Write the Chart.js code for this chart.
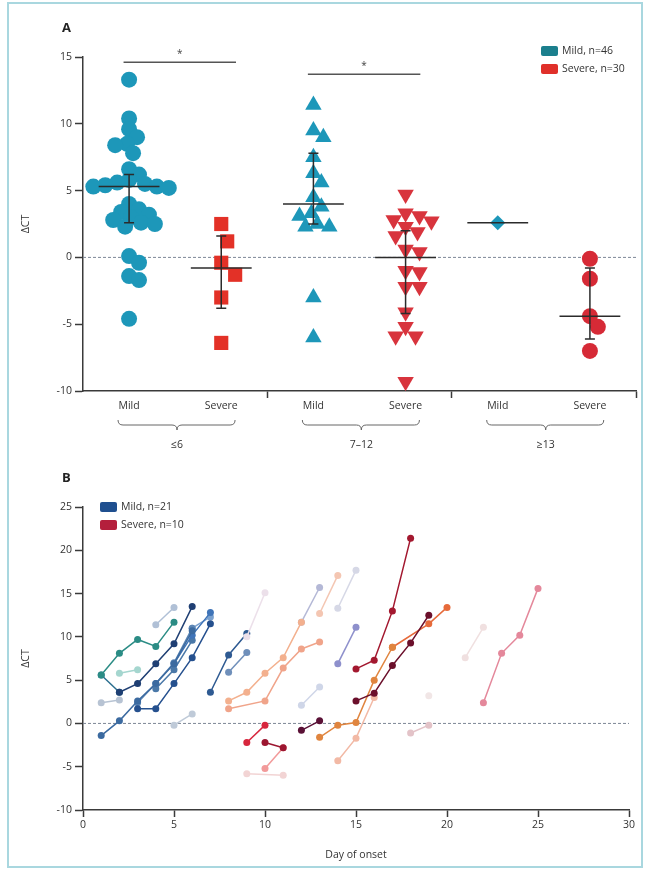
<!DOCTYPE html>
<html>
<head>
<meta charset="utf-8">
<script src="https://cdn.jsdelivr.net/npm/chart.js@4.4.0/dist/chart.umd.min.js"></script>
<style>
    html, body { margin: 0; padding: 0; background: #fff; }
    #frame { position: absolute; left: 7px; top: 2px; width: 636px; height: 866px; border: 2px solid #a9d7df; box-sizing: border-box; }
    #wrapA { position: absolute; left: 0; top: 0; width: 646px; height: 460px; }
    #wrapB { position: absolute; left: 0; top: 460px; width: 646px; height: 411px; }
</style>
</head>
<body>
<div id="frame"></div>
<div id="wrapA"><canvas id="chartA" width="646" height="460"></canvas></div>
<div id="wrapB"><canvas id="chartB" width="646" height="411"></canvas></div>
<script>
// ===== PANEL A DATA =====
const groupLabels = ["≤6", "7–12", "≥13"];
const severityLabels = ["Mild", "Severe"];
const legendA = ["Mild, n=46", "Severe, n=30"];

const mildUpTo6 = [13.3, 10.4, 9.6, 9.0, 8.5, 8.4, 7.8, 6.6, 6.2, 5.8, 5.6, 5.5, 5.4, 5.3, 5.3,
    5.2, 4.0, 3.6, 3.4, 3.2, 3.0, 2.8, 2.6, 2.5, 2.3, 0.1, -0.4, -1.4, -1.7, -4.6];
const severeUpTo6 = [2.5, 1.2, -0.4, -1.3, -3.0, -6.4];
const mild7to12 = [11.4, 9.5, 9.0, 7.5, 6.3, 5.6, 4.5, 3.8, 3.3, 3.1, 2.5, 2.3, 2.3, -3.0, -6.0];
const severe7to12 = [4.7, 3.3, 3.1, 2.8, 2.7, 2.3, 1.9, 1.6, 0.6, 0.4, -1.0, -1.1, -2.2, -2.2,
    -4.1, -5.2, -5.9, -5.9, -9.3];
const mild13plus = [2.6];
const severe13plus = [-0.1, -1.6, -4.4, -5.2, -7.0];

const medians = [5.3, -0.8, 4.0, 0.0, 2.6, -4.4];
const lowerQ = [2.6, -3.8, 2.5, -4.2, null, -6.1];
const upperQ = [6.2, 1.6, 7.8, 2.0, null, -0.8];
// significance brackets: [from group, to group, height]
const sigFrom = [0, 2];
const sigTo = [1, 3];
const sigHeight = [14.6, 13.7];

// ===== PANEL B DATA =====
const legendB = ["Mild, n=21", "Severe, n=10"];

const mildDays = [
    [1, 2, 3, 4, 5], [1, 2, 3, 4, 5, 6], [2, 3, 4, 5, 6], [3, 4, 5, 6, 7], [3, 4, 5, 6],
    [7, 8, 9], [8, 9], [1, 2], [5, 6], [4, 5], [5, 6, 7], [2, 3], [4, 5, 6], [1, 2], [6, 7]
];
const mildCt = [
    [5.6, 8.1, 9.7, 8.9, 11.7], [-1.4, 0.3, 2.6, 4.6, 6.9, 10.7], [3.6, 4.6, 6.9, 9.2, 13.5],
    [1.7, 1.7, 4.6, 7.6, 11.5], [2.4, 4.6, 7.0, 11.0], [3.6, 7.9, 10.4], [5.9, 8.2], [2.4, 2.7],
    [-0.2, 1.1], [11.4, 13.4], [6.9, 10.2, 12.8], [5.8, 6.2], [4.0, 6.2, 9.6], [5.6, 3.6], [11.0, 12.3]
];

const severeDays = [
    [15, 16, 17, 18], [15, 16, 17, 18, 19], [13, 14, 15, 16, 17], [17, 19, 20], [9, 10], [10, 11],
    [12, 13], [8, 9, 10, 11, 12], [8, 10, 11, 12, 13], [10, 11], [9, 11], [14, 15, 16], [12, 13],
    [13, 14], [14, 15], [14, 15], [18, 19], [22, 23, 24, 25], [21, 22], [9, 10], [12, 13], [19]
];
const severeCt = [
    [6.3, 7.3, 13.0, 21.4], [2.6, 3.5, 6.7, 9.3, 12.5], [-1.6, -0.2, 0.1, 5.0, 8.8], [8.8, 11.5, 13.4],
    [-2.2, -0.2], [-2.2, -2.8], [-0.8, 0.3], [2.6, 3.6, 5.8, 7.6, 11.7], [1.7, 2.6, 6.4, 8.6, 9.4],
    [-5.2, -2.8], [-5.8, -6.0], [-4.3, -1.7, 3.0], [11.7, 15.7], [12.7, 17.1], [13.3, 17.7],
    [6.9, 11.1], [-1.1, -0.2], [2.4, 8.1, 10.2, 15.6], [7.6, 11.1], [10.0, 15.1], [2.1, 4.2], [3.2]
];

// ===== STYLES =====
const mildShades = ["#2b8c85", "#3b6aa0", "#1f3f73", "#25508e", "#5d86b5", "#2e5a92", "#6f8fba",
    "#b7c3d3", "#bfcad8", "#b0c0d6", "#3f74b8", "#a5d6cf", "#4a78a8", "#2b6f8f", "#7aa1cf"];
const severeShades = ["#a3182f", "#6b0f2b", "#e0853f", "#e66a3a", "#d7263d", "#9c1630", "#5a1136",
    "#f3b08e", "#f0a48a", "#f29a9a", "#f2d4d4", "#f2b9a5", "#b4b8d6", "#f4c6b2", "#d6d8e6",
    "#8e90cc", "#e3c3c8", "#e4889b", "#f0e0e0", "#ece0ea", "#cfd6e8", "#f1e6e6"];

const FONT = "'Open Sans', 'DejaVu Sans', sans-serif";
const TEXT = "#333";
const AXIS = "#3a3a3a";
const MILD = "#1d97b9";
const SEVERE = "#e33127";

Chart.defaults.font.family = FONT;
Chart.defaults.color = TEXT;

// spread points sideways so they do not sit on top of each other
function swarm(values, center, minDist) {
    const pxX = 92.8, pxY = 13.4;
    const placed = [];
    values.forEach(v => {
        const py = v * pxY;
        let best = 0;
        for (let k = 0; k < 60; k++) {
            const off = (k % 2 ? 1 : -1) * Math.ceil(k / 2) * 2;
            if (placed.every(q => Math.hypot(q.px - off, q.py - py) >= minDist)) {
                best = off;
                break;
            }
        }
        placed.push({ px: best, py });
    });
    return placed.map(q => ({ x: center + q.px / pxX, y: q.py / pxY }));
}

function drawLegend(ctx, x, y, labels, colors) {
    ctx.save();
    ctx.font = "10.5px " + FONT;
    ctx.textBaseline = "middle";
    labels.forEach((lab, i) => {
        const yy = y + i * 18;
        ctx.fillStyle = colors[i];
        ctx.beginPath();
        ctx.roundRect(x, yy - 5, 17, 10, 2);
        ctx.fill();
        ctx.fillStyle = TEXT;
        ctx.fillText(lab, x + 21, yy);
    });
    ctx.restore();
}

function panelLetter(ctx, letter, x, y) {
    ctx.save();
    ctx.font = "bold 13px " + FONT;
    ctx.fillStyle = "#222";
    ctx.textBaseline = "middle";
    ctx.fillText(letter, x, y);
    ctx.restore();
}

const zeroLine = {
    id: "zeroLine",
    beforeDatasetsDraw(chart) {
        const { ctx, chartArea, scales: { y } } = chart;
        const yy = y.getPixelForValue(0);
        ctx.save();
        ctx.strokeStyle = "#7d8796";
        ctx.lineWidth = 1;
        ctx.setLineDash([3, 2]);
        ctx.beginPath();
        ctx.moveTo(chartArea.left, yy);
        ctx.lineTo(chartArea.right, yy);
        ctx.stroke();
        ctx.restore();
    }
};

function drawBrace(ctx, xl, xr, xm, y) {
    const h = 5;
    ctx.beginPath();
    ctx.moveTo(xl, y - h);
    ctx.quadraticCurveTo(xl, y, xl + h, y);
    ctx.lineTo(xm - h, y);
    ctx.quadraticCurveTo(xm, y, xm, y + h);
    ctx.quadraticCurveTo(xm, y, xm + h, y);
    ctx.lineTo(xr - h, y);
    ctx.quadraticCurveTo(xr, y, xr, y - h);
    ctx.stroke();
}

const panelAExtras = {
    id: "panelAExtras",
    afterDatasetsDraw(chart) {
        const { ctx, scales: { x, y } } = chart;
        ctx.save();
        ctx.strokeStyle = "#2b2b2b";
        ctx.lineWidth = 1.5;

        // ===== MEDIAN + IQR =====
        medians.forEach((m, i) => {
            const ym = y.getPixelForValue(m);
            ctx.beginPath();
            ctx.moveTo(x.getPixelForValue(i - 0.33), ym);
            ctx.lineTo(x.getPixelForValue(i + 0.33), ym);
            ctx.stroke();
            if (lowerQ[i] === null) return;
            const xc = x.getPixelForValue(i);
            const yl = y.getPixelForValue(lowerQ[i]);
            const yu = y.getPixelForValue(upperQ[i]);
            const cap = 5;
            ctx.beginPath();
            ctx.moveTo(xc, yl);
            ctx.lineTo(xc, yu);
            ctx.moveTo(xc - cap, yl);
            ctx.lineTo(xc + cap, yl);
            ctx.moveTo(xc - cap, yu);
            ctx.lineTo(xc + cap, yu);
            ctx.stroke();
        });

        // ===== SIGNIFICANCE =====
        ctx.strokeStyle = "#555";
        ctx.fillStyle = "#444";
        ctx.font = "10px " + FONT;
        ctx.textAlign = "center";
        sigHeight.forEach((h, i) => {
            const yy = y.getPixelForValue(h);
            const x1 = x.getPixelForValue(sigFrom[i] - 0.06);
            const x2 = x.getPixelForValue(sigTo[i] + 0.16);
            ctx.beginPath();
            ctx.moveTo(x1, yy);
            ctx.lineTo(x2, yy);
            ctx.stroke();
            ctx.fillText("*", (x1 + x2) / 2, yy - 5);
        });
        ctx.restore();
    },
    afterDraw(chart) {
        const { ctx, chartArea, scales: { x } } = chart;
        ctx.save();
        ctx.strokeStyle = "#666";
        ctx.lineWidth = 1;
        ctx.fillStyle = TEXT;
        ctx.font = "10.5px " + FONT;
        ctx.textAlign = "center";
        ctx.textBaseline = "middle";
        groupLabels.forEach((g, i) => {
            const xl = x.getPixelForValue(i * 2 - 0.12);
            const xr = x.getPixelForValue(i * 2 + 1.15);
            const xm = x.getPixelForValue(i * 2 + 0.52);
            const yb = chartArea.bottom + 34;
            drawBrace(ctx, xl, xr, xm, yb);
            ctx.fillText(g, xm, yb + 20);
        });
        ctx.restore();

        drawLegend(ctx, chartArea.right - 95, chartArea.top - 6, legendA, ["#1b7f8d", "#e0302a"]);
        panelLetter(ctx, "A", 62, 28);
    }
};

const panelBExtras = {
    id: "panelBExtras",
    afterDraw(chart) {
        const { ctx, chartArea } = chart;
        drawLegend(ctx, chartArea.left + 17, chartArea.top, legendB, ["#1f4f8f", "#b41f3c"]);
        panelLetter(ctx, "B", 62, 18);
    }
};

// ===== CHART A =====
const groupsA = [
    { label: "Mild ≤6", values: mildUpTo6, style: "circle", radius: 8, color: MILD, gap: 10.5, rot: 0 },
    { label: "Severe ≤6", values: severeUpTo6, style: "rect", radius: 10, color: SEVERE, gap: 18, rot: 0 },
    { label: "Mild 7–12", values: mild7to12, style: "triangle", radius: 9.5, color: MILD, gap: 12, rot: 0 },
    { label: "Severe 7–12", values: severe7to12, style: "triangle", radius: 9.5, color: "#d8343d", gap: 13, rot: 180 },
    { label: "Mild ≥13", values: mild13plus, style: "rectRot", radius: 7.5, color: MILD, gap: 15, rot: 0 },
    { label: "Severe ≥13", values: severe13plus, style: "circle", radius: 8, color: "#d62a36", gap: 13, rot: 0 }
];

new Chart(document.getElementById("chartA"), {
    type: "scatter",
    data: {
        datasets: groupsA.map((g, i) => ({
            label: g.label,
            data: swarm(g.values, i, g.gap),
            pointStyle: g.style,
            pointRadius: g.radius,
            pointRotation: g.rot,
            backgroundColor: g.color,
            borderColor: g.color,
            borderWidth: 0
        }))
    },
    options: {
        responsive: false,
        animation: false,
        layout: { padding: { left: 20, right: 6, top: 57, bottom: 8 } },
        plugins: { legend: { display: false }, tooltip: { enabled: false } },
        scales: {
            x: {
                type: "linear",
                min: -0.5,
                max: 5.5,
                afterBuildTicks: scale => {
                    scale.ticks = [0, 1, 1.5, 2, 3, 3.5, 4, 5, 5.5].map(v => ({ value: v }));
                },
                afterFit: scale => { scale.height = 61; },
                ticks: {
                    autoSkip: false,
                    maxRotation: 0,
                    padding: 2,
                    font: { size: 10.5 },
                    color: TEXT,
                    callback: v => Number.isInteger(v) ? severityLabels[v % 2] : ""
                },
                grid: {
                    drawOnChartArea: false,
                    tickLength: 7,
                    tickWidth: 1.5,
                    tickColor: c => (c.tick && !Number.isInteger(c.tick.value)) ? AXIS : "rgba(0,0,0,0)"
                },
                border: { color: AXIS, width: 1.5 }
            },
            y: {
                min: -10,
                max: 15,
                afterFit: scale => { scale.width = 63; },
                ticks: { stepSize: 5, padding: 3, font: { size: 10.5 }, color: TEXT },
                grid: { drawOnChartArea: false, tickLength: 8, tickWidth: 1.5, tickColor: AXIS },
                border: { color: AXIS, width: 1.5 },
                title: { display: true, text: "ΔCT", font: { size: 10.5 }, color: TEXT, padding: 0 }
            }
        }
    },
    plugins: [zeroLine, panelAExtras]
});

// ===== CHART B =====
function tracks(days, cts, shades) {
    return days.map((d, i) => ({
        data: d.map((day, j) => ({ x: day, y: cts[i][j] })),
        showLine: true,
        borderColor: shades[i],
        backgroundColor: shades[i],
        borderWidth: 1.5,
        pointRadius: 3.5,
        pointBorderWidth: 0
    }));
}

new Chart(document.getElementById("chartB"), {
    type: "scatter",
    data: {
        datasets: [
            ...tracks(severeDays, severeCt, severeShades),
            ...tracks(mildDays, mildCt, mildShades)
        ]
    },
    options: {
        responsive: false,
        animation: false,
        layout: { padding: { left: 20, right: 17, top: 47, bottom: 6 } },
        plugins: { legend: { display: false }, tooltip: { enabled: false } },
        scales: {
            x: {
                min: 0,
                max: 30,
                afterFit: scale => { scale.height = 55; },
                ticks: { stepSize: 5, padding: 2, font: { size: 10.5 }, color: TEXT },
                grid: { drawOnChartArea: false, tickLength: 7, tickWidth: 1.5, tickColor: AXIS },
                border: { color: AXIS, width: 1.5 },
                title: { display: true, text: "Day of onset", font: { size: 10.5 }, color: TEXT, padding: { top: 6 } }
            },
            y: {
                min: -10,
                max: 25,
                afterFit: scale => { scale.width = 63; },
                ticks: { stepSize: 5, padding: 3, font: { size: 10.5 }, color: TEXT },
                grid: { drawOnChartArea: false, tickLength: 8, tickWidth: 1.5, tickColor: AXIS },
                border: { color: AXIS, width: 1.5 },
                title: { display: true, text: "ΔCT", font: { size: 10.5 }, color: TEXT, padding: 0 }
            }
        }
    },
    plugins: [zeroLine, panelBExtras]
});
</script>
</body>
</html>
